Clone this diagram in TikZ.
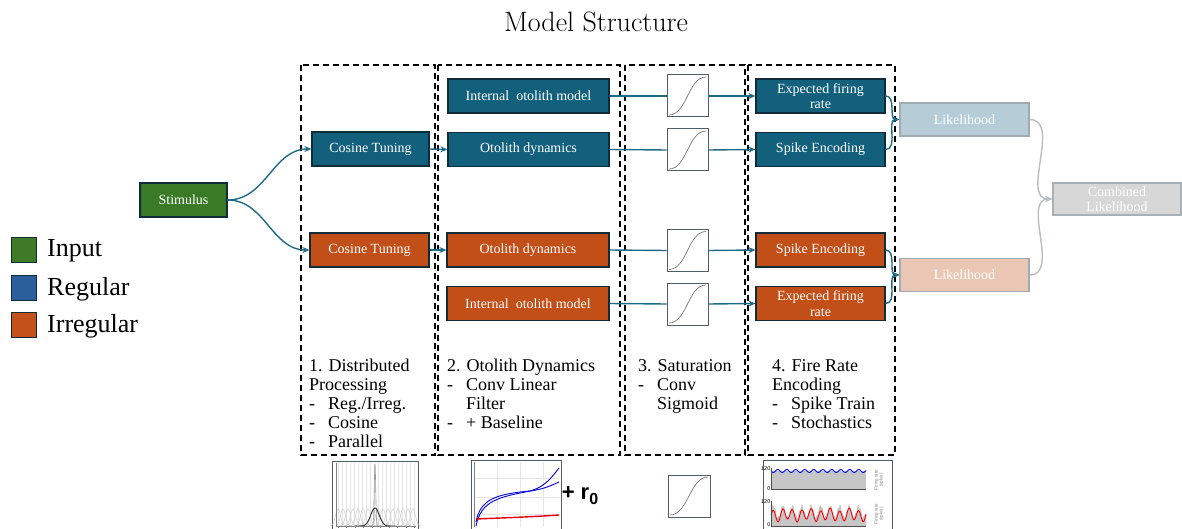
\documentclass[tikz,border=0pt]{standalone}
\usepackage{fontspec}
\usetikzlibrary{arrows.meta}
\newfontfamily\nodefont{Liberation Serif}
\newfontfamily\sansfnt{Liberation Sans}
\definecolor{nblue}{HTML}{13607C}
\definecolor{norange}{HTML}{C24E18}
\definecolor{ngreen}{HTML}{3A7A26}
\definecolor{bdark}{HTML}{102C3A}
\definecolor{lgreen}{HTML}{3E7A27}
\definecolor{lblue}{HTML}{2A5F9B}
\definecolor{lorange}{HTML}{C4501A}
\definecolor{conn}{HTML}{1F6A87}
\definecolor{likeblue}{HTML}{B6CDD8}
\definecolor{likeorange}{HTML}{EAC7B4}
\definecolor{likeborder}{HTML}{A0AAB0}
\definecolor{combfill}{HTML}{D7D7D7}
\definecolor{combborder}{HTML}{A9B0B5}
\definecolor{grayconn}{HTML}{B8BEC2}
\definecolor{sigborder}{HTML}{4F5F69}
\definecolor{sigcurve}{HTML}{7A7A7A}
\newcommand{\itm}[1]{\makebox[19pt][l]{-}#1}
\newcommand{\cnt}[1]{\hspace*{19pt}#1}
\begin{document}
\begin{tikzpicture}[x=1pt,y=-1pt,
  base/.style={draw=bdark,line width=1.2pt,text=white,font=\nodefont\fontsize{14}{15.5}\selectfont,inner sep=0pt,align=center},
  bluebox/.style={base,fill=nblue},
  orbox/.style={base,fill=norange},
  greenbox/.style={base,fill=ngreen},
  lightbox/.style={draw=likeborder,line width=1.2pt,text=white,font=\nodefont\fontsize{14}{15.5}\selectfont,inner sep=0pt,align=center,minimum width=129pt,minimum height=33pt},
  sigbox/.style={draw=sigborder,line width=1pt,fill=white,minimum width=41pt,minimum height=42pt,inner sep=0pt,
    path picture={\draw[sigcurve,line width=0.7pt]
      ([xshift=2pt,yshift=2pt]path picture bounding box.south west)
      .. controls ([xshift=20pt,yshift=2pt]path picture bounding box.south west)
      and ([xshift=-20pt,yshift=-2pt]path picture bounding box.north east)
      .. ([xshift=-2pt,yshift=-2pt]path picture bounding box.north east);}},
  stagebox/.style={draw=black,line width=1.6pt,dash pattern=on 6pt off 4pt},
  arr/.style={draw=conn,line width=1.4pt,-{Stealth[length=7pt,width=6pt]}},
  ln/.style={draw=conn,line width=1.4pt},
  garr/.style={draw=grayconn,line width=1.4pt,-{Stealth[length=7pt,width=6pt]}},
  legsq/.style={draw=bdark,line width=1.2pt,minimum width=25pt,minimum height=25pt,inner sep=0pt},
  legtxt/.style={anchor=west,inner sep=0pt,font=\nodefont\fontsize{26}{28}\selectfont},
  stagetxt/.style={anchor=north west,inner sep=0pt,align=left,font=\nodefont\fontsize{18}{19}\selectfont},
  thumb/.style={draw=sigborder,line width=1pt,fill=white}
]
\useasboundingbox (0,0) rectangle (1182,529);

% title
\node[font=\fontsize{28}{32}\selectfont] (title) at (596,22) {Model Structure};

% stage boxes
\draw[stagebox] (301,65) rectangle (435,455);
\draw[stagebox] (438,65) rectangle (620,455);
\draw[stagebox] (625,65) rectangle (745,455);
\draw[stagebox] (748,65) rectangle (895,455);

% legend
\node[legsq,fill=lgreen] (lg1) at (24,250) {};
\node[legsq,fill=lblue] (lg2) at (24,288) {};
\node[legsq,fill=lorange] (lg3) at (24,325) {};
\node[legtxt] (lt1) at (47,251) {Input};
\node[legtxt] (lt2) at (47,289) {Regular};
\node[legtxt] (lt3) at (47,326) {Irregular};

% nodes
\node[greenbox,minimum width=87pt,minimum height=34pt] (stim) at (183.5,200) {Stimulus};
\node[bluebox,minimum width=117pt,minimum height=34pt] (ctb) at (370.5,149) {Cosine Tuning};
\node[orbox,minimum width=119pt,minimum height=34pt] (cto) at (369.5,250) {Cosine Tuning};

\node[bluebox,minimum width=161pt,minimum height=34pt] (iob) at (528.5,96) {Internal\ \ otolith model};
\node[bluebox,minimum width=161pt,minimum height=34pt] (odb) at (528.5,149.5) {Otolith dynamics};
\node[orbox,minimum width=162pt,minimum height=34pt] (odo) at (528,250) {Otolith dynamics};
\node[orbox,minimum width=162pt,minimum height=34pt] (ioo) at (528,303.5) {Internal\ \ otolith model};

\node[sigbox] (s1) at (687.5,96) {};
\node[sigbox] (s2) at (687.5,150) {};
\node[sigbox] (s3) at (687.5,250.5) {};
\node[sigbox] (s4) at (687.5,304) {};

\node[bluebox,minimum width=129pt,minimum height=34pt] (efb) at (820.5,96) {Expected firing\\rate};
\node[bluebox,minimum width=129pt,minimum height=34pt] (seb) at (820.5,149.5) {Spike Encoding};
\node[orbox,minimum width=129pt,minimum height=34pt] (seo) at (820.5,250) {Spike Encoding};
\node[orbox,minimum width=129pt,minimum height=34pt] (efo) at (820.5,303.5) {Expected firing\\rate};

\node[lightbox,fill=likeblue] (lb) at (964.5,119.5) {Likelihood};
\node[lightbox,fill=likeorange] (lo) at (964.5,275) {Likelihood};
\node[lightbox,draw=combborder,fill=combfill,minimum width=128pt,minimum height=32pt] (comb) at (1117,199) {Combined\\Likelihood};

% connectors
\draw[arr] (stim.east) to[out=0,in=180] (ctb.west);
\draw[arr] (stim.east) to[out=0,in=180] (cto.west);
\draw[arr] (ctb.east) -- (odb.west);
\draw[arr] (cto.east) -- (odo.west);
\draw[ln] (iob.east) -- (s1.west);
\draw[ln] (odb.east) -- (s2.west);
\draw[ln] (odo.east) -- (s3.west);
\draw[ln] (ioo.east) -- (s4.west);
\draw[arr] (s1.east) -- (efb.west);
\draw[arr] (s2.east) -- (seb.west);
\draw[arr] (s3.east) -- (seo.west);
\draw[arr] (s4.east) -- (efo.west);
\draw[arr] (efb.east) to[out=0,in=180] (lb.west);
\draw[arr] (seb.east) to[out=0,in=180] (lb.west);
\draw[arr] (seo.east) to[out=0,in=180] (lo.west);
\draw[arr] (efo.east) to[out=0,in=180] (lo.west);
\draw[garr] (lb.east) to[out=0,in=180] (comb.west);
\draw[garr] (lo.east) to[out=0,in=180] (comb.west);

% stage descriptions
\node[stagetxt] (t1) at (309,359) {1. Distributed\\Processing\\\itm{Reg./Irreg.}\\\itm{Cosine}\\\itm{Parallel}};
\node[stagetxt] (t2) at (447,359) {2. Otolith Dynamics\\\itm{Conv Linear}\\\cnt{Filter}\\\itm{+ Baseline}};
\node[stagetxt] (t3) at (638,359) {3. Saturation\\\itm{Conv}\\\cnt{Sigmoid}};
\node[stagetxt] (t4) at (772,359) {4. Fire Rate\\Encoding\\\itm{Spike Train}\\\itm{Stochastics}};

% thumbnail 1: tuning curves
\draw[thumb] (332,461) rectangle (418,540);
\foreach \i in {0,...,19} \draw[gray!22,line width=0.4pt] ({338+\i*4},463) -- ({338+\i*4},526);
\foreach \c in {338,343,...,414} \draw[gray!50,line width=0.3pt] plot[domain=-8:8,samples=15] ({\c+\x},{526-17*exp(-(\x/3.5)^2)});
\draw[gray!80,line width=0.6pt] plot[domain=-6:6,samples=40] ({375+\x},{526-63*exp(-(\x/1.0)^2)});
\draw[black!80,line width=0.9pt] plot[domain=-20:20,samples=40] ({375+\x},{526-18*exp(-(\x/6)^2)});
\draw[gray,line width=0.5pt] (336,463) -- (336,526) -- (416,526);
\foreach \i in {0,...,9} \draw[gray,line width=0.4pt] ({338+\i*8.5},526) -- ({338+\i*8.5},528);

% thumbnail 2: otolith dynamics
\draw[thumb] (471,460) rectangle (561,540);
\foreach \xx in {497,520,543} \draw[gray!20,line width=0.4pt] (\xx,462) -- (\xx,527);
\foreach \yy in {478,497,514} \draw[gray!20,line width=0.4pt] (474,\yy) -- (559,\yy);
\draw[blue!85!black,line width=0.9pt] (476,526) .. controls (481,500) and (500,497) .. (530,491) .. controls (545,487) and (552,477) .. (559,468);
\draw[blue!85!black,line width=0.9pt] (476,522) .. controls (480,500) and (495,494) .. (530,491) .. controls (545,489) and (552,485) .. (559,482);
\draw[red!90!black,line width=1.4pt] (476,519) .. controls (500,518) and (530,517) .. (559,515);
\draw[gray,line width=0.5pt] (474,462) -- (474,527);
\node[font=\sansfnt\bfseries\fontsize{22}{22}\selectfont,inner sep=0pt] (r0) at (580,496) {+ r\raisebox{-5pt}{\fontsize{16}{16}\selectfont 0}};

% thumbnail 3: sigmoid
\node[sigbox,minimum width=42pt,minimum height=42pt] (s5) at (689,496) {};

% thumbnail 4: firing rates
\draw[thumb] (763,460) rectangle (892,540);
\fill[gray!45] (771,471) rectangle (866,489);
\draw[blue,line width=0.9pt] plot[domain=771:866,samples=100] (\x,{471+1.5*sin(40*(\x-771))});
\draw[black!70,line width=0.5pt] (771,468) -- (771,489) -- (866,489);
\node[font=\sansfnt\fontsize{5.5}{6}\selectfont,anchor=east,inner sep=0.5pt] (a1) at (771,469) {120};
\node[font=\sansfnt\fontsize{5.5}{6}\selectfont,anchor=east,inner sep=0.5pt] (a2) at (771,489) {0};
\node[font=\sansfnt\fontsize{4.5}{5}\selectfont,rotate=90,align=center,text=gray,inner sep=0pt] (a3) at (879,480) {Firing rate\\(spk/s)};
\fill[gray!45] (771,526) -- plot[domain=771:866,samples=150] (\x,{514-6*sin(38*(\x-771))-4*abs(sin(61*(\x-771)))}) -- (866,526) -- cycle;
\draw[red,line width=0.9pt] plot[domain=771:866,samples=150] (\x,{515-5.5*sin(38*(\x-771))+1.5*sin(17*(\x-771))});
\draw[black!70,line width=0.5pt] (771,501) -- (771,526) -- (866,526);
\node[font=\sansfnt\fontsize{5.5}{6}\selectfont,anchor=east,inner sep=0.5pt] (a4) at (771,502) {120};
\node[font=\sansfnt\fontsize{5.5}{6}\selectfont,anchor=east,inner sep=0.5pt] (a5) at (771,525) {0};
\node[font=\sansfnt\fontsize{4.5}{5}\selectfont,rotate=90,align=center,text=gray,inner sep=0pt] (a6) at (879,514) {Firing rate\\(spk/s)};
\end{tikzpicture}
\end{document}
